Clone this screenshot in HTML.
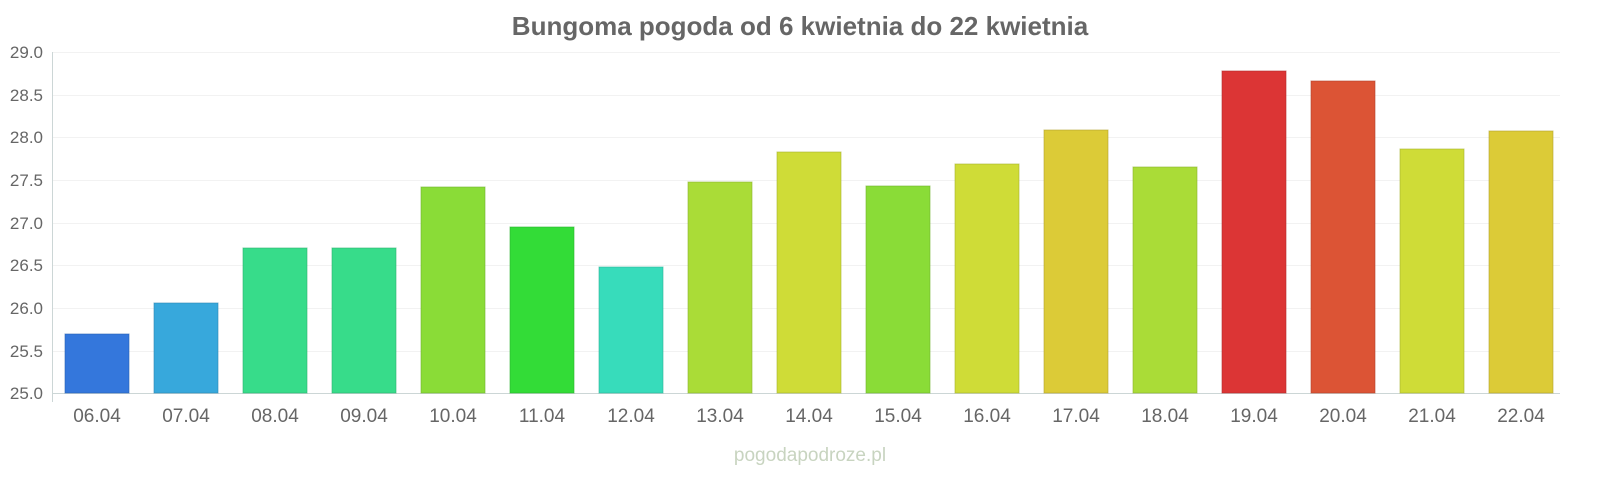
<!DOCTYPE html>
<html><head><meta charset="utf-8"><style>
html,body{margin:0;padding:0;background:#fff;}
svg{display:block;font-family:"Liberation Sans",sans-serif;}
</style></head><body>
<svg width="1600" height="480" viewBox="0 0 1600 480" xmlns="http://www.w3.org/2000/svg">
<text x="800" y="35" text-anchor="middle" font-size="26" font-weight="bold" fill="#666">Bungoma pogoda od 6 kwietnia do 22 kwietnia</text>
<g stroke="#f2f2f2" stroke-width="1">
<line x1="52" x2="1560" y1="52.5" y2="52.5"/>
<line x1="52" x2="1560" y1="95.5" y2="95.5"/>
<line x1="52" x2="1560" y1="137.5" y2="137.5"/>
<line x1="52" x2="1560" y1="180.5" y2="180.5"/>
<line x1="52" x2="1560" y1="223.5" y2="223.5"/>
<line x1="52" x2="1560" y1="265.5" y2="265.5"/>
<line x1="52" x2="1560" y1="308.5" y2="308.5"/>
<line x1="52" x2="1560" y1="351.5" y2="351.5"/>
</g>
<line x1="52.5" x2="52.5" y1="52" y2="402" stroke="#ccd6d6"/>
<line x1="52" x2="1560" y1="393.5" y2="393.5" stroke="#ccd6d6"/>
<g font-size="17" fill="#666" text-anchor="end">
<text x="43" y="58">29.0</text><text x="43" y="101">28.5</text><text x="43" y="143">28.0</text><text x="43" y="186">27.5</text><text x="43" y="229">27.0</text><text x="43" y="271">26.5</text><text x="43" y="314">26.0</text><text x="43" y="357">25.5</text><text x="43" y="399">25.0</text>
</g>
<g stroke-width="1" stroke-opacity="0.6">
<rect x="65" y="334" width="64" height="59" fill="#3477dc" stroke="#2a60b0"/>
<rect x="154" y="303" width="64" height="90" fill="#37a8dc" stroke="#2c86b0"/>
<rect x="243" y="248" width="64" height="145" fill="#37dc8a" stroke="#2cb06e"/>
<rect x="332" y="248" width="64" height="145" fill="#37dc8a" stroke="#2cb06e"/>
<rect x="421" y="187" width="64" height="206" fill="#8adc37" stroke="#6eb02c"/>
<rect x="510" y="227" width="64" height="166" fill="#33dc37" stroke="#29b02c"/>
<rect x="599" y="267" width="64" height="126" fill="#37dcbb" stroke="#2cb096"/>
<rect x="688" y="182" width="64" height="211" fill="#aadc37" stroke="#88b02c"/>
<rect x="777" y="152" width="64" height="241" fill="#cfdc37" stroke="#a5b02c"/>
<rect x="866" y="186" width="64" height="207" fill="#8adc37" stroke="#6eb02c"/>
<rect x="955" y="164" width="64" height="229" fill="#cfdc37" stroke="#a5b02c"/>
<rect x="1044" y="130" width="64" height="263" fill="#dccb37" stroke="#b0a22c"/>
<rect x="1133" y="167" width="64" height="226" fill="#aadc37" stroke="#88b02c"/>
<rect x="1222" y="71" width="64" height="322" fill="#dc3535" stroke="#b02a2a"/>
<rect x="1311" y="81" width="64" height="312" fill="#dc5435" stroke="#b0432a"/>
<rect x="1400" y="149" width="64" height="244" fill="#cfdc37" stroke="#a5b02c"/>
<rect x="1489" y="131" width="64" height="262" fill="#dccb37" stroke="#b0a22c"/>
</g>
<g font-size="19" fill="#666" text-anchor="middle">
<text x="97" y="422">06.04</text><text x="186" y="422">07.04</text><text x="275" y="422">08.04</text><text x="364" y="422">09.04</text><text x="453" y="422">10.04</text><text x="542" y="422">11.04</text><text x="631" y="422">12.04</text><text x="720" y="422">13.04</text><text x="809" y="422">14.04</text><text x="898" y="422">15.04</text><text x="987" y="422">16.04</text><text x="1076" y="422">17.04</text><text x="1165" y="422">18.04</text><text x="1254" y="422">19.04</text><text x="1343" y="422">20.04</text><text x="1432" y="422">21.04</text><text x="1521" y="422">22.04</text>
</g>
<text x="810" y="461" text-anchor="middle" font-size="19" fill="#c8d4c0">pogodapodroze.pl</text>
</svg>
</body></html>
